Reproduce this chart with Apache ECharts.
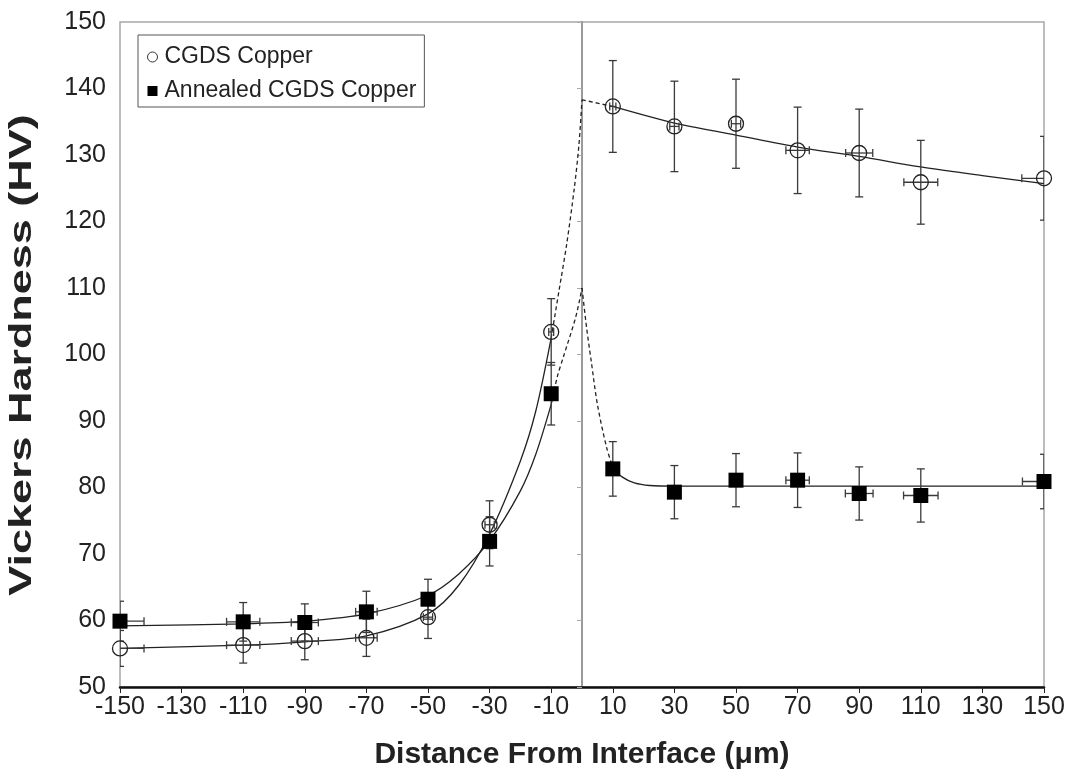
<!DOCTYPE html>
<html>
<head>
<meta charset="utf-8">
<title>Vickers Hardness vs Distance From Interface</title>
<script src="https://cdn.jsdelivr.net/npm/echarts@6/dist/echarts.min.js"></script>
<style>
  html, body { margin: 0; padding: 0; background: #fff; }
  #chart { width: 1077px; height: 782px; }
</style>
</head>
<body>
<div id="chart"></div>
<script>
// measuring positions, distance from the interface (um)
var distance = [-150, -110, -90, -70, -50, -30, -10, 10, 30, 50, 70, 90, 110, 150];

// CGDS copper (open circles)
var cgdsHV    = [55.8, 56.3, 56.9, 57.4, 60.5, 74.4, 103.4, 137.3, 134.3, 134.7, 130.7, 130.3, 125.9, 126.5];
var cgdsErrHV = [2.7, 2.7, 2.8, 2.8, 3.2, 3.6, 5.0, 6.9, 6.8, 6.7, 6.5, 6.6, 6.3, 6.3];
var cgdsErrX  = [7.8, 5.4, 4.4, 3.5, 1.5, 1.5, 0.8, 1, 1.5, 1.5, 3.8, 4.4, 5.5, 7.2];

// annealed CGDS copper (filled squares)
var annealedHV    = [59.9, 59.8, 59.7, 61.3, 63.2, 71.9, 94.1, 82.8, 79.3, 81.1, 81.1, 79.1, 78.8, 80.9];
var annealedErrHV = [3.0, 2.9, 2.8, 3.1, 3.0, 3.7, 4.7, 4.1, 4.0, 4.0, 4.1, 4.0, 4.0, 4.1];
var annealedErrX  = [7.8, 5.4, 4.4, 3.5, 1.5, 1.5, 0.8, 0.8, 1, 1.5, 3.8, 4.5, 5.6, 7];

// trend lines
var cgdsFitLeft  = [[-150, 55.8], [-110, 56.3], [-90, 56.8], [-70, 57.7], [-50, 61.0],
                    [-40, 65.3], [-30, 73.0], [-20, 84.0], [-15, 91.5], [-10, 102.5]];
var cgdsFitUp    = [[-10, 102.5], [-7.5, 109.5], [-5, 116.5], [-2.5, 125.0], [-1, 131.5], [0, 138.3]];
var cgdsFitDown  = [[0, 138.3], [10, 137.3]];
var cgdsFitRight = [[10, 137.3], [30, 134.8], [50, 133.0], [70, 131.2], [90, 129.8], [110, 128.2], [130, 126.9], [150, 125.7]];

var annFitLeft  = [[-150, 59.2], [-110, 59.5], [-90, 59.9], [-70, 61.0], [-50, 63.8],
                   [-40, 67.0], [-30, 72.0], [-20, 79.5], [-15, 85.0], [-10, 92.5]];
var annFitUp    = [[-10, 92.5], [-8, 96.7], [-6, 99.7], [-2, 105.7], [0, 110.0]];
var annFitDown  = [[0, 110.0], [1.5, 104.0], [3, 99.0], [5, 92.5], [8, 86.0], [10, 83.0]];
var annFitRight = [[10, 83.0], [13, 81.6], [17, 80.7], [22, 80.3], [30, 80.2], [90, 80.2], [150, 80.2]];

// axis ticks
var xTicks = [-150, -130, -110, -90, -70, -50, -30, -10, 10, 30, 50, 70, 90, 110, 130, 150];

var font = "'Liberation Sans', Arial, sans-serif";

function pairs(xs, ys, ex, ey) {
  return xs.map(function (x, i) { return [x, ys[i], ex[i], ey[i]]; });
}

function errorBars(name, data) {
  return {
    type: 'custom',
    name: name,
    data: data,
    z: 3,
    silent: true,
    clip: true,
    encode: { x: 0, y: 1 },
    renderItem: function (params, api) {
      var x = api.value(0), y = api.value(1), dx = api.value(2), dy = api.value(3);
      var top = api.coord([x, y + dy]), bot = api.coord([x, y - dy]);
      var lft = api.coord([x - dx, y]), rgt = api.coord([x + dx, y]);
      var c = 4;
      var st = { stroke: '#3a3a3a', lineWidth: 1.3 };
      var kids = [
        { type: 'line', shape: { x1: top[0], y1: top[1], x2: bot[0], y2: bot[1] }, style: st },
        { type: 'line', shape: { x1: top[0] - c, y1: top[1], x2: top[0] + c, y2: top[1] }, style: st },
        { type: 'line', shape: { x1: bot[0] - c, y1: bot[1], x2: bot[0] + c, y2: bot[1] }, style: st }
      ];
      if (dx > 0) {
        kids.push(
          { type: 'line', shape: { x1: lft[0], y1: lft[1], x2: rgt[0], y2: rgt[1] }, style: st },
          { type: 'line', shape: { x1: lft[0], y1: lft[1] - c, x2: lft[0], y2: lft[1] + c }, style: st },
          { type: 'line', shape: { x1: rgt[0], y1: rgt[1] - c, x2: rgt[0], y2: rgt[1] + c }, style: st }
        );
      }
      return { type: 'group', children: kids };
    }
  };
}

function fitLine(name, data, dashed) {
  return {
    type: 'line',
    name: name,
    data: data,
    z: 2,
    silent: true,
    showSymbol: false,
    symbol: 'none',
    smooth: 0.3,
    lineStyle: { color: '#222', width: 1.3, type: dashed ? [4, 3] : 'solid' }
  };
}

var chart = echarts.init(document.getElementById('chart'));
chart.setOption({
  animation: false,
  backgroundColor: '#fff',
  grid: { left: 120, right: 33, top: 22, bottom: 95, show: true, borderColor: '#a8a8a8', borderWidth: 1.5 },
  // y axis title, stretched along its length like the original figure
  graphic: [{
    type: 'text',
    x: 22,
    y: 355,
    rotation: Math.PI / 2,
    scaleX: 1.45,
    style: {
      text: 'Vickers Hardness (HV)',
      fontFamily: font,
      fontSize: 31,
      fontWeight: 'bold',
      fill: '#222',
      align: 'center',
      verticalAlign: 'middle'
    }
  }],
  legend: {
    orient: 'vertical',
    left: 138,
    top: 35,
    data: [
      { name: 'CGDS Copper', icon: 'circle', itemStyle: { color: '#fff', borderColor: '#333', borderWidth: 1, opacity: 1 } },
      { name: 'Annealed CGDS Copper', icon: 'rect', itemStyle: { color: '#000', opacity: 1 } }
    ],
    itemWidth: 10,
    itemHeight: 10,
    itemGap: 10,
    padding: [10, 8, 4, 9],
    borderColor: '#555',
    borderWidth: 1,
    textStyle: { fontFamily: font, fontSize: 23, lineHeight: 24, color: '#222', padding: [0, 0, 0, 2] }
  },
  xAxis: {
    type: 'value',
    min: -150,
    max: 150,
    name: 'Distance From Interface (\u03bcm)',
    nameLocation: 'middle',
    nameGap: 53,
    nameTextStyle: { fontFamily: font, fontSize: 30, fontWeight: 'bold', color: '#222' },
    axisLine: { lineStyle: { color: '#111', width: 2.5 } },
    axisTick: { show: true, length: 6, lineStyle: { color: '#222', width: 1 }, customValues: xTicks },
    axisLabel: { fontFamily: font, fontSize: 25, color: '#222', margin: 8, customValues: xTicks },
    splitLine: { show: false }
  },
  yAxis: [{
    type: 'value',
    min: 50,
    max: 150,
    interval: 10,
    axisLine: { show: true, lineStyle: { color: '#9a9a9a', width: 2 } },
    axisTick: { show: false },
    axisLabel: { fontFamily: font, fontSize: 25, color: '#222', margin: 14 },
    splitLine: { show: false }
  }, {
    // the interface line at x = 0, with its own tick marks
    type: 'value',
    min: 50,
    max: 150,
    interval: 10,
    position: 'left',
    offset: -462,
    axisLine: { show: true, lineStyle: { color: '#9a9a9a', width: 2 } },
    axisTick: { show: true, length: 5, lineStyle: { color: '#aaa', width: 1 } },
    axisLabel: { show: false },
    splitLine: { show: false }
  }],
  series: [
    fitLine('cgds fit left', cgdsFitLeft, false),
    fitLine('cgds fit up', cgdsFitUp, true),
    fitLine('cgds fit down', cgdsFitDown, true),
    fitLine('cgds fit right', cgdsFitRight, false),
    fitLine('annealed fit left', annFitLeft, false),
    fitLine('annealed fit up', annFitUp, true),
    fitLine('annealed fit down', annFitDown, true),
    fitLine('annealed fit right', annFitRight, false),
    errorBars('cgds err', pairs(distance, cgdsHV, cgdsErrX, cgdsErrHV)),
    errorBars('annealed err', pairs(distance, annealedHV, annealedErrX, annealedErrHV)),
    {
      type: 'scatter',
      name: 'CGDS Copper',
      data: distance.map(function (x, i) { return [x, cgdsHV[i]]; }),
      symbol: 'circle',
      symbolSize: 15,
      z: 4,
      clip: false,
      itemStyle: { color: 'rgba(0,0,0,0)', borderColor: '#222', borderWidth: 1.3, opacity: 1 }
    },
    {
      type: 'scatter',
      name: 'Annealed CGDS Copper',
      data: distance.map(function (x, i) { return [x, annealedHV[i]]; }),
      symbol: 'rect',
      symbolSize: 15,
      z: 4,
      clip: false,
      itemStyle: { color: '#000', opacity: 1 }
    }
  ]
});
</script>
</body>
</html>
